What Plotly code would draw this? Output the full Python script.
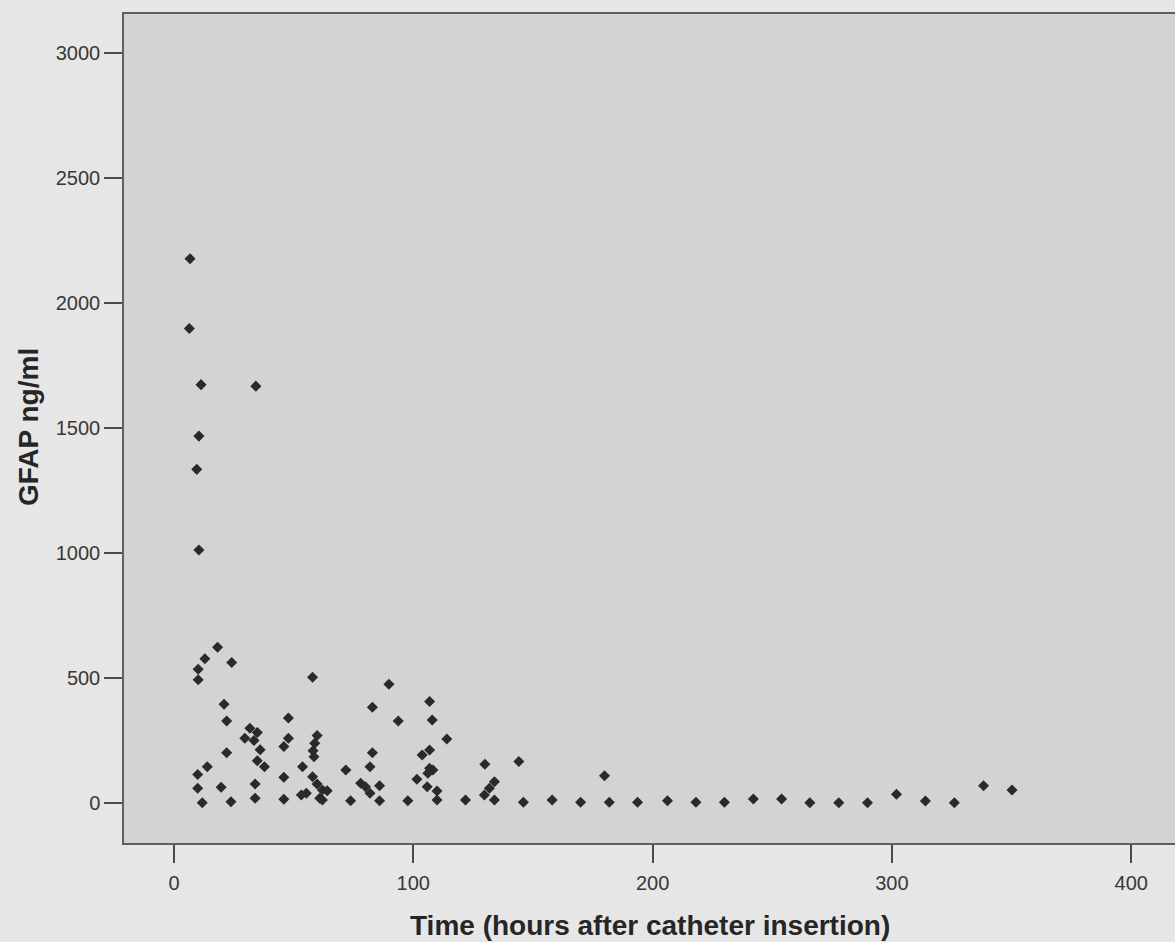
import plotly.graph_objects as go

# Time (hours after catheter insertion)
hours = [
    6.7, 6.4, 11.3, 34.2, 10.4, 9.5, 10.4, 18.2, 12.9, 24.1,
    10.1, 10.1, 57.9, 89.8, 20.9, 82.9, 22.0, 93.7, 47.8, 31.7,
    34.8, 29.6, 33.4, 36.0, 47.8, 45.9, 59.8, 58.8, 58.1, 58.5,
    22.0, 82.9, 34.8, 37.8, 53.7, 13.9, 9.9, 81.9, 71.8, 45.9,
    57.9, 59.8, 33.9, 19.7, 9.9, 62.0, 64.0, 55.3, 53.2, 60.9,
    78.0, 80.0, 85.9, 81.9, 101.5, 11.8, 23.8, 33.9, 45.9, 62.0,
    73.8, 85.9, 97.7, 106.8, 107.9, 114.0, 103.7, 106.8, 106.8, 108.2,
    106.1, 105.8, 109.9, 109.9, 121.8, 129.9, 144.1, 133.9, 131.8, 129.7,
    133.9, 146.0, 158.0, 169.9, 179.9, 181.9, 193.7, 206.2, 218.1, 230.0,
    242.1, 253.9, 265.7, 277.8, 289.8, 301.9, 314.0, 326.1, 338.3, 350.2,
]

# GFAP ng/ml
gfap = [
    2178, 1899, 1674, 1668, 1468, 1335, 1012, 623, 577, 562,
    535, 493, 503, 475, 395, 383, 328, 328, 340, 299,
    282, 259, 250, 213, 259, 226, 270, 239, 209, 185,
    201, 201, 169, 145, 145, 145, 114, 145, 132, 103,
    105, 76, 76, 63, 59, 52, 49, 39, 32, 19,
    79, 65, 69, 39, 95, 1, 5, 19, 15, 12,
    9, 9, 9, 406, 332, 256, 192, 212, 139, 132,
    119, 65, 48, 12, 12, 155, 166, 85, 59, 32,
    12, 3, 12, 3, 109, 3, 3, 9, 3, 3,
    16, 16, 1, 1, 1, 35, 8, 1, 69, 52,
]

x_ticks = [0, 100, 200, 300, 400]
y_ticks = [0, 500, 1000, 1500, 2000, 2500, 3000]

fig = go.Figure(
    go.Scatter(
        x=hours,
        y=gfap,
        mode="markers",
        marker=dict(symbol="diamond", size=8.5, color="#2a2a2a", line=dict(width=0)),
        showlegend=False,
    )
)

axis_font = dict(family="Liberation Sans, Arial, sans-serif", size=20, color="#383838")
title_font = dict(family="Liberation Sans, Arial, sans-serif", size=28, color="#262626")

fig.update_layout(
    width=1175,
    height=942,
    margin=dict(l=124, r=0, t=14, b=99),
    paper_bgcolor="#e6e6e6",
    plot_bgcolor="#d3d3d3",
    xaxis=dict(
        range=[-20.9, 418.3],
        tickvals=x_ticks,
        ticks="outside",
        ticklen=18,
        tickwidth=2,
        tickcolor="#4a4a4a",
        showline=True,
        linecolor="#5e5e5e",
        linewidth=1.5,
        mirror=True,
        showgrid=False,
        zeroline=False,
        tickfont=axis_font,
        ticklabelstandoff=3,
    ),
    yaxis=dict(
        range=[-160, 3157],
        tickvals=y_ticks,
        ticks="outside",
        ticklen=18,
        tickwidth=2,
        tickcolor="#4a4a4a",
        showline=True,
        linecolor="#5e5e5e",
        linewidth=1.5,
        mirror=False,
        showgrid=False,
        zeroline=False,
        tickfont=axis_font,
    ),
    annotations=[
        dict(
            text="<b>Time (hours after catheter insertion)</b>",
            x=(650 - 124) / 1051, y=(843 - 925) / 829,
            xref="paper", yref="paper",
            xanchor="center", yanchor="middle",
            showarrow=False,
            font=title_font,
        ),
        dict(
            text="<b>GFAP ng/ml</b>",
            x=(28 - 124) / 1051, y=(843 - 427) / 829,
            xref="paper", yref="paper",
            xanchor="center", yanchor="middle",
            textangle=-90,
            showarrow=False,
            font=title_font,
        ),
    ],
)

fig.write_html("out.html")
